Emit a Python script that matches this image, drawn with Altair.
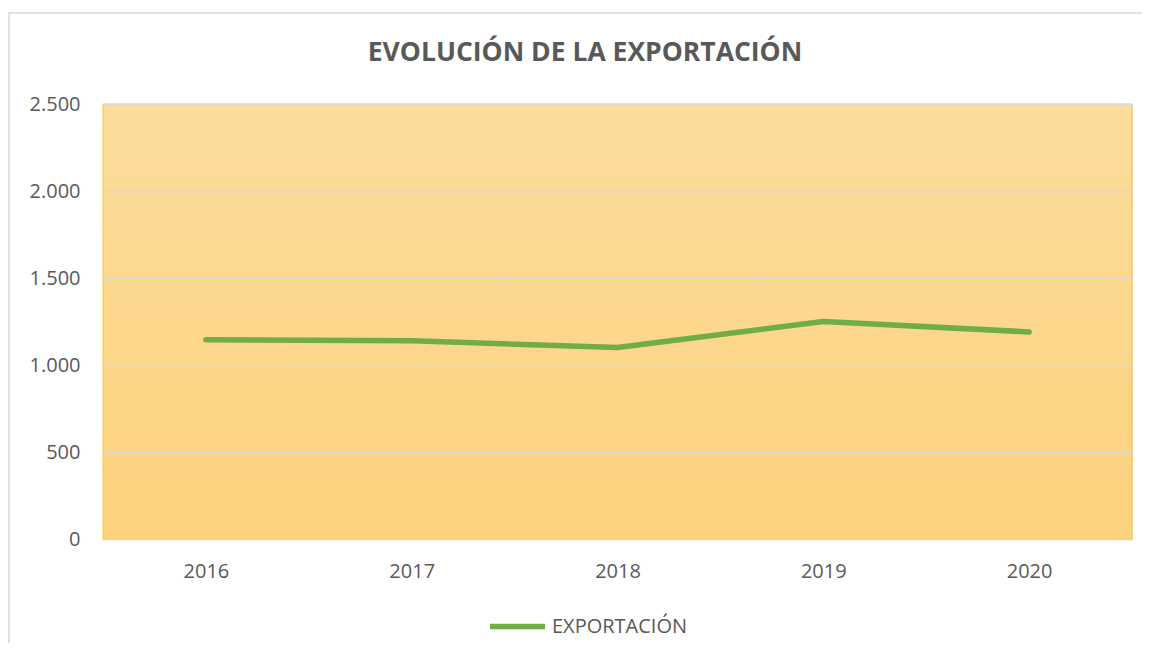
import altair as alt
import pandas as pd

years = ["2016", "2017", "2018", "2019", "2020"]
exportacion = [1145, 1140, 1100, 1250, 1190]
series_name = "EXPORTACIÓN"
chart_title = "EVOLUCIÓN DE LA EXPORTACIÓN"
y_ticks = [0, 500, 1000, 1500, 2000, 2500]

df = pd.DataFrame({"Año": years, "Valor": exportacion, "Serie": [series_name] * len(years)})

W, H = 1029, 435
FONT = "Open Sans"
GREY = "#595959"

frame = alt.Data(values=[{"k": 1}])

outer = alt.Chart(frame).mark_rect(fill=None, stroke="#D9D9D9", strokeWidth=1.5).encode(
    x=alt.value(-94), x2=alt.value(W + 60), y=alt.value(-91), y2=alt.value(H + 140)
)

title = alt.Chart(frame).mark_text(
    text=chart_title, font=FONT, fontSize=26.5, fontWeight="bold", color=GREY,
    align="center", baseline="middle",
).encode(x=alt.value(482), y=alt.value(-51))

bg = alt.Chart(frame).mark_rect(
    color=alt.Gradient(
        gradient="linear",
        stops=[alt.GradientStop(color="#FDDC9C", offset=0), alt.GradientStop(color="#FCD27D", offset=1)],
        x1=0, x2=0, y1=0, y2=1,
    ),
    stroke="#FFC72C", strokeWidth=1,
).encode(x=alt.value(0), x2=alt.value(W), y=alt.value(0), y2=alt.value(H))

line = alt.Chart(df).mark_line(strokeWidth=5.5, strokeCap="round", strokeJoin="round").encode(
    x=alt.X("Año:O", scale=alt.Scale(type="point", padding=0.5), title=None,
            axis=alt.Axis(labelAngle=0, ticks=False, domainColor="#D9D9D9", domainWidth=1.5,
                          labelPadding=22, labelFontSize=20, labelColor=GREY, labelFont=FONT)),
    y=alt.Y("Valor:Q", scale=alt.Scale(domain=[0, 2500], nice=False), title=None,
            axis=alt.Axis(values=y_ticks, ticks=False, domain=False, gridColor="#D9D9D9", gridWidth=1.5,
                          labelPadding=23, labelFontSize=20, labelColor=GREY, labelFont=FONT,
                          labelExpr="replace(format(datum.value, ','), /,/g, '.')", zindex=1)),
    color=alt.Color("Serie:N", scale=alt.Scale(range=["#70AD47"]), title=None,
                    legend=alt.Legend(orient="none", legendX=384, legendY=492, symbolType="stroke",
                                      symbolSize=3025, symbolStrokeWidth=5.5, labelFontSize=20,
                                      labelColor=GREY, labelFont=FONT, padding=0, labelOffset=4)),
)

chart = alt.layer(outer, title, bg, line).properties(
    width=W, height=H,
    autosize=alt.AutoSizeParams(type="none"),
    padding={"left": 95, "top": 96, "right": 10, "bottom": 104},
).configure_view(stroke=None).configure(background="white")

chart.save("out.html", embed_options={"renderer": "svg", "actions": False})
